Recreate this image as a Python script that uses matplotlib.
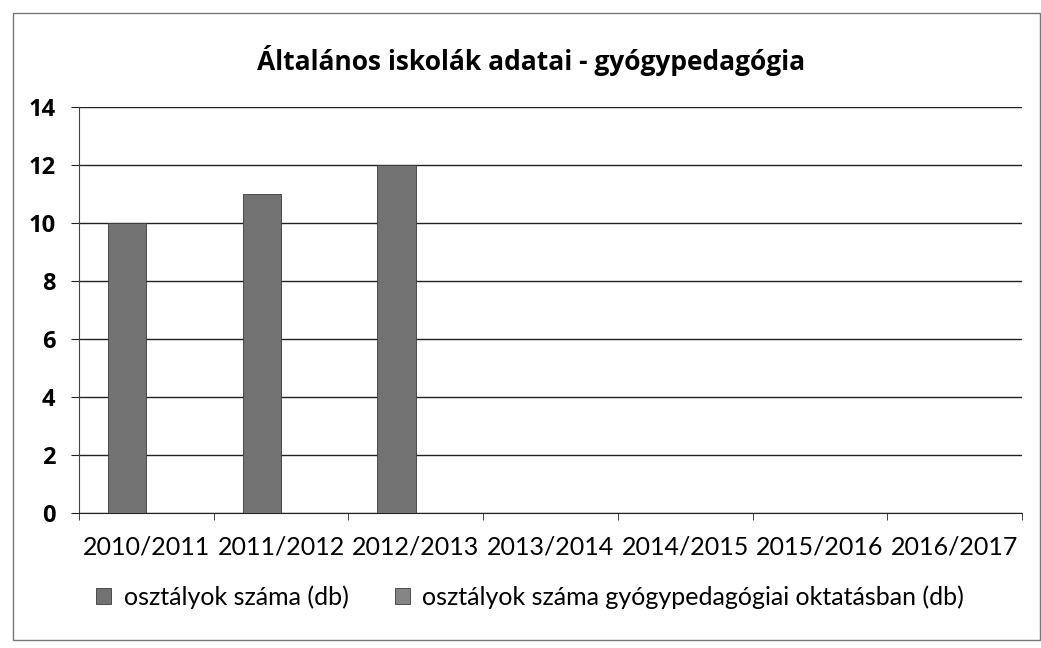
import matplotlib.pyplot as plt
import numpy as np
from matplotlib.patches import Rectangle

plt.rcParams['font.family'] = ['Lato', 'DejaVu Sans']
BOLD = ['Open Sans', 'DejaVu Sans']

years = ['2010/2011', '2011/2012', '2012/2013', '2013/2014',
         '2014/2015', '2015/2016', '2016/2017']
osztalyok = [10, 11, 12, 0, 0, 0, 0]
gyogyped = [0, 0, 0, 0, 0, 0, 0]
yticks = [0, 2, 4, 6, 8, 10, 12, 14]

fig = plt.figure(figsize=(10.41, 6.48), dpi=100)
ax = fig.add_axes([79 / 1041, 1 - 513 / 648, 943 / 1041, 406 / 648])

x = np.arange(len(years))
w = 0.286
ax.bar(x - w / 2, osztalyok, w, color='#727272', edgecolor='#3a3a3a',
       linewidth=0.6, label='osztályok száma (db)', zorder=3)
ax.bar(x + w / 2, gyogyped, w, color='#858585', edgecolor='#3a3a3a',
       linewidth=0.6, label='osztályok száma gyógypedagógiai oktatásban (db)', zorder=3)

ax.set_xlim(-0.5, len(years) - 0.5)
ax.set_ylim(0, 14)
ax.set_yticks(yticks)
ax.set_yticklabels([str(v) for v in yticks], fontsize=17, fontweight='bold',
                   family=BOLD)
ax.set_xticks(x)
ax.set_xticklabels(years, fontsize=18)
ax.tick_params(axis='x', length=0, pad=16)
ax.tick_params(axis='y', length=6, direction='out', pad=11, color='#222222')
ax.set_xticks(np.arange(len(years) + 1) - 0.5, minor=True)
ax.tick_params(axis='x', which='minor', length=5, direction='out', color='#222222')

ax.yaxis.grid(True, color='#222222', linewidth=1.0)
ax.set_axisbelow(True)
for side in ['top', 'right']:
    ax.spines[side].set_visible(False)
ax.spines['left'].set_color('#444444')
ax.spines['bottom'].set_color('#222222')

fig.text(0.51, 1 - 60 / 648, 'Általános iskolák adatai - gyógypedagógia',
         ha='center', va='center', fontsize=19, fontweight='bold', family=BOLD)

ax.legend(loc='center', bbox_to_anchor=((530 - 79) / 943, (513 - 597) / 406), ncol=2,
          frameon=False, fontsize=18, handlelength=0.6, handleheight=0.6,
          columnspacing=1.85, handletextpad=0.5)

fig.patches.append(Rectangle((13 / 1041, 8 / 648), 1 - 14 / 1041, 1 - 21 / 648,
                             transform=fig.transFigure, fill=False,
                             edgecolor='#777777', linewidth=1.0))

fig.savefig('out.png', dpi=100)
